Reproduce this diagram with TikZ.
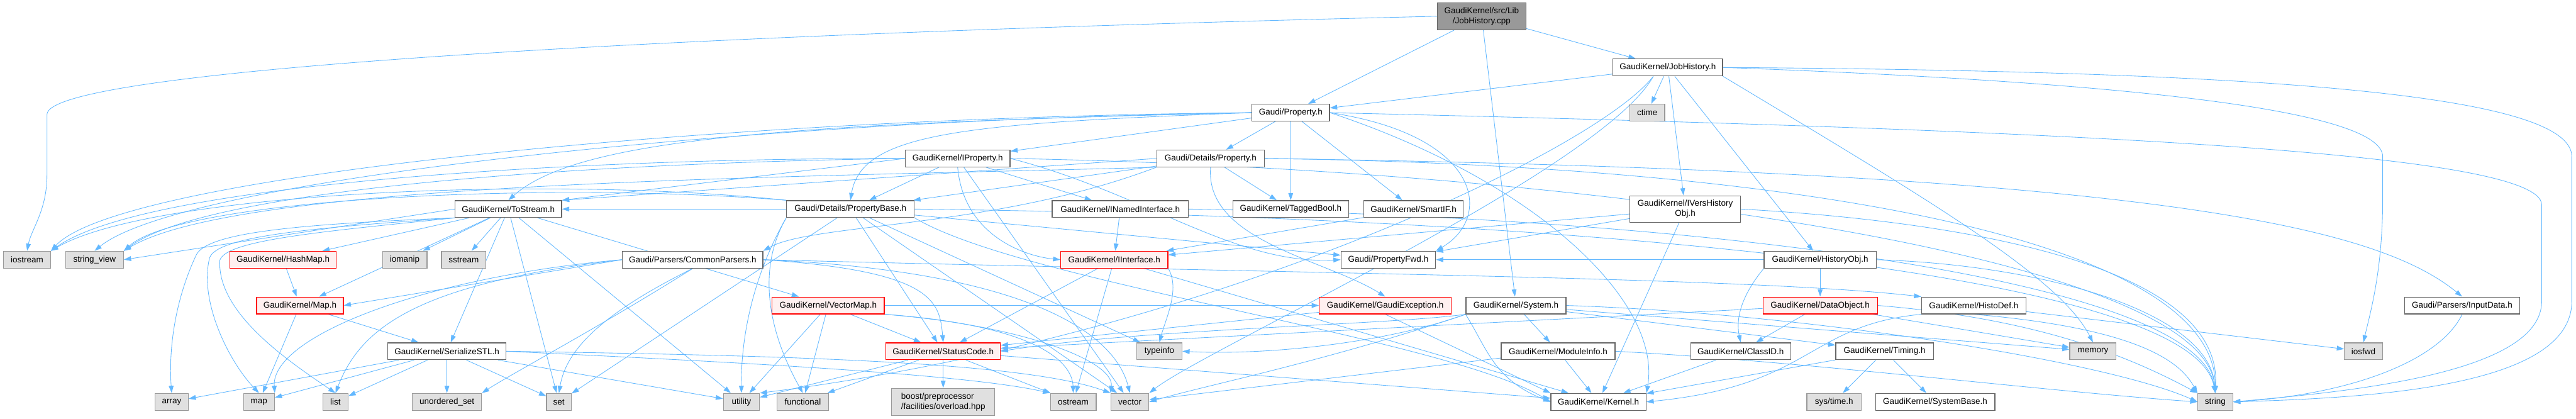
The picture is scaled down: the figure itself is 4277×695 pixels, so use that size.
\documentclass[tikz,border=0pt]{standalone}
\usepackage{fontspec}
\setmainfont{Liberation Sans}
\usetikzlibrary{arrows.meta}
\definecolor{edgec}{HTML}{63B8FF}
\definecolor{bordn}{HTML}{666666}
\definecolor{borde}{HTML}{999999}
\definecolor{fille}{HTML}{E0E0E0}
\definecolor{fillr}{HTML}{FFF0F0}
\definecolor{bordr}{HTML}{FF0000}
\definecolor{fillroot}{HTML}{999999}
\pgfdeclarelayer{bg}
\pgfsetlayers{bg,main}
\begin{document}
\begin{tikzpicture}[x=1pt,y=-1pt,
  every node/.style={font=\fontsize{14.1}{16.7}\selectfont, inner sep=0pt, minimum height=28pt, align=center, line width=1.3pt},
  nb/.style={draw=bordn, fill=white},
  xb/.style={draw=borde, fill=fille},
  rb/.style={draw=bordr, fill=fillr},
  rootb/.style={draw=bordn, fill=fillroot, minimum height=45pt},
  dep/.style={draw=edgec, line width=0.9pt, -{Triangle[length=12pt,width=8pt]}},
]
\useasboundingbox (0,0) rectangle (4277,695);
% ---- nodes
\node[rootb, minimum width=147pt] (cpp) at (2460,27) {GaudiKernel/src/Lib\\/JobHistory.cpp};
\node[nb, minimum width=129pt] (prop) at (2143,187) {Gaudi/Property.h};
\node[nb, minimum width=182pt] (jh) at (2769,112) {GaudiKernel/JobHistory.h};
\node[xb, minimum width=58pt] (ctime) at (2735,187) {ctime};
\node[nb, minimum width=174pt] (iprop) at (1590,263) {GaudiKernel/IProperty.h};
\node[nb, minimum width=179pt] (dprop) at (2010,263) {Gaudi/Details/Property.h};
\node[nb, minimum width=177pt] (tostr) at (844,347) {GaudiKernel/ToStream.h};
\node[nb, minimum width=212pt] (pbase) at (1412,347) {Gaudi/Details/PropertyBase.h};
\node[nb, minimum width=226pt] (inamed) at (1860,347) {GaudiKernel/INamedInterface.h};
\node[nb, minimum width=192pt] (tagged) at (2143,347) {GaudiKernel/TaggedBool.h};
\node[nb, minimum width=165pt] (smartif) at (2347,347) {GaudiKernel/SmartIF.h};
\node[nb, minimum width=184pt, minimum height=44pt] (ivers) at (2798,347) {GaudiKernel/IVersHistory\\Obj.h};
\node[xb, minimum width=78pt] (iostream) at (45,431) {iostream};
\node[xb, minimum width=96pt] (strview) at (157,431) {string\_view};
\node[rb, minimum width=177pt] (hashmap) at (470,431) {GaudiKernel/HashMap.h};
\node[xb, minimum width=74pt] (iomanip) at (672,431) {iomanip};
\node[xb, minimum width=74pt] (sstream) at (770,431) {sstream};
\node[nb, minimum width=233pt] (cpars) at (1150,431) {Gaudi/Parsers/CommonParsers.h};
\node[rb, minimum width=178pt] (iintf) at (1850,431) {GaudiKernel/IInterface.h};
\node[nb, minimum width=157pt] (pfwd) at (2305,431) {Gaudi/PropertyFwd.h};
\node[nb, minimum width=186pt] (histobj) at (3022,431) {GaudiKernel/HistoryObj.h};
\node[rb, minimum width=144pt] (maph) at (498,507) {GaudiKernel/Map.h};
\node[rb, minimum width=186pt] (vecmap) at (1375,507) {GaudiKernel/VectorMap.h};
\node[rb, minimum width=219pt] (gexc) at (2300,507) {GaudiKernel/GaudiException.h};
\node[nb, minimum width=166pt] (system) at (2517,507) {GaudiKernel/System.h};
\node[rb, minimum width=190pt] (dataobj) at (3022,507) {GaudiKernel/DataObject.h};
\node[nb, minimum width=173pt] (histodef) at (3277,507) {GaudiKernel/HistoDef.h};
\node[nb, minimum width=191pt] (inputdata) at (4088,507) {Gaudi/Parsers/InputData.h};
\node[nb, minimum width=196pt] (serial) at (742,583) {GaudiKernel/SerializeSTL.h};
\node[rb, minimum width=190pt] (scode) at (1566,583) {GaudiKernel/StatusCode.h};
\node[xb, minimum width=75pt] (typeinfo) at (1925,583) {typeinfo};
\node[nb, minimum width=189pt] (modinfo) at (2587,583) {GaudiKernel/ModuleInfo.h};
\node[nb, minimum width=166pt] (classid) at (2890,583) {GaudiKernel/ClassID.h};
\node[nb, minimum width=162pt] (timing) at (3129,583) {GaudiKernel/Timing.h};
\node[xb, minimum width=77pt] (memory) at (3475,583) {memory};
\node[xb, minimum width=63pt] (iosfwd) at (3924,583) {iosfwd};
\node[xb, minimum width=55pt] (array) at (285,667) {array};
\node[xb, minimum width=51pt] (stdmap) at (430,667) {map};
\node[xb, minimum width=42pt] (list) at (557,667) {list};
\node[xb, minimum width=115pt] (uset) at (742,667) {unordered\_set};
\node[xb, minimum width=41pt] (set) at (928,667) {set};
\node[xb, minimum width=60pt] (utility) at (1231,667) {utility};
\node[xb, minimum width=86pt] (functional) at (1333,667) {functional};
\node[xb, minimum width=171pt, minimum height=45pt, align=left] (boost) at (1566,667) {boost/preprocessor\\/facilities/overload.hpp};
\node[xb, minimum width=76pt] (ostream) at (1782,667) {ostream};
\node[xb, minimum width=63pt] (vector) at (1876,667) {vector};
\node[nb, minimum width=158pt] (kernel) at (2654,667) {GaudiKernel/Kernel.h};
\node[xb, minimum width=90pt] (systime) at (3045,667) {sys/time.h};
\node[nb, minimum width=198pt] (sysbase) at (3213,667) {GaudiKernel/SystemBase.h};
\node[xb, minimum width=58pt] (string) at (3678,667) {string};
\coordinate (jhsw) at ([xshift=-24pt]jh.south);
% ---- edges
\begin{pgfonlayer}{bg}
% root
\draw[dep] (cpp) -- (prop);
\draw[dep] (cpp) -- (jh);
\draw[dep] (cpp) -- (system);
\draw[dep] (cpp.west) .. controls (1000,60) and (78,120) .. (78,190) -- (78,290) .. controls (78,350) and (52,380) .. (iostream.north);
% JobHistory.h
\draw[dep] (jh) -- (prop);
\draw[dep] (jh) -- (ctime);
\draw[dep] (jh) -- (ivers);
\draw[dep] (jh) -- (histobj);
\draw[dep] (jh.south east) .. controls (3200,330) and (3420,460) .. (memory.north);
\draw[dep] (jhsw) .. controls (2650,250) and (2000,560) .. (utility.north east);
\draw[dep] (jhsw) .. controls (2660,280) and (2000,580) .. (vector.north east);
\draw[dep] (jh.east) .. controls (3800,118) and (4270,160) .. (4270,260) -- (4270,500) .. controls (4270,640) and (3950,660) .. (string.east);
\draw[dep] (jh.east) .. controls (3500,135) and (3956,180) .. (3956,260) -- (3956,330) .. controls (3956,450) and (3935,520) .. (iosfwd.north);
% Property.h
\draw[dep] (prop) -- (dprop);
\draw[dep] (prop) -- (iprop);
\draw[dep] (prop) -- (tagged);
\draw[dep] (prop) -- (smartif);
\draw[dep] (prop.west) .. controls (1600,205) and (1430,220) .. (pbase.north);
\draw[dep] (prop.west) .. controls (1300,205) and (960,230) .. (tostr.north);
\draw[dep] (prop.west) .. controls (1200,200) and (300,300) .. (strview.north);
\draw[dep] (prop.west) .. controls (1200,195) and (200,290) .. (iostream.north east);
\draw[dep] (prop.east) .. controls (2460,225) and (2480,360) .. (pfwd.north east);
\draw[dep] (prop.east) .. controls (2550,300) and (2760,500) .. (kernel.north east);
\draw[dep] (prop.east) .. controls (3400,215) and (4220,250) .. (4220,340) -- (4220,500) .. controls (4220,620) and (3900,650) .. (string.east);
% Details/Property.h
\draw[dep] (dprop) -- (pbase);
\draw[dep] (dprop) -- (tagged);
\draw[dep] (dprop.west) -- (tostr.north east);
\draw[dep] (dprop.south west) .. controls (1300,295) and (400,300) .. (strview.north east);
\draw[dep] (dprop.south west) .. controls (1650,380) and (1350,370) .. (cpars.north east);
\draw[dep] (dprop.south) .. controls (2000,400) and (2200,430) .. (gexc.north);
\draw[dep] (dprop.east) .. controls (3600,285) and (3950,380) .. (inputdata.north);
\draw[dep] (dprop.east) .. controls (3000,275) and (3680,400) .. (string.north);
% PropertyBase
\draw[dep] (pbase) -- (pfwd);
\draw[dep] (pbase) -- (scode);
\draw[dep] (pbase.west) -- (tostr.east);
\draw[dep] (pbase) -- (typeinfo);
\draw[dep] (pbase) -- (set);
\draw[dep] (pbase) -- (vector);
\draw[dep] (pbase.south west) .. controls (1260,440) and (1270,540) .. (functional.north);
\draw[dep] (pbase.south west) .. controls (1260,440) and (1230,540) .. (utility.north);
\draw[dep] (pbase.south east) .. controls (1700,470) and (2400,560) .. (kernel.west);
\draw[dep] (pbase.north west) .. controls (900,300) and (300,330) .. (strview.north east);
\draw[dep] (pbase.north west) .. controls (900,290) and (250,320) .. (iostream.north east);
\draw[dep] (pbase.east) .. controls (2600,360) and (3640,450) .. (string.north);
% IProperty
\draw[dep] (iprop) -- (pbase);
\draw[dep] (iprop) -- (inamed);
\draw[dep] (iprop.south) .. controls (1600,390) and (1700,425) .. (iintf.west);
\draw[dep] (iprop.west) -- (tostr.north east);
\draw[dep] (iprop.west) .. controls (1000,270) and (350,310) .. (strview.north east);
\draw[dep] (iprop.west) .. controls (1000,262) and (250,300) .. (iostream.north east);
\draw[dep] (iprop.east) .. controls (1900,320) and (2050,440) .. (pfwd.west);
\draw[dep] (iprop) -- (vector);
\draw[dep] (iprop.east) .. controls (2600,280) and (3660,420) .. (string.north);
% ToStream
\draw[dep] (tostr) -- (hashmap);
\draw[dep] (tostr) -- (maph);
\draw[dep] (tostr) -- (vecmap);
\draw[dep] (tostr) -- (serial);
\draw[dep] (tostr) -- (iomanip);
\draw[dep] (tostr) -- (sstream);
\draw[dep] (tostr.west) -- (strview.east);
\draw[dep] (tostr) -- (set);
\draw[dep] (tostr) -- (utility);
\draw[dep] (tostr.south west) .. controls (500,372) and (340,385) .. (325,425) .. controls (290,500) and (280,580) .. (array.north);
\draw[dep] (tostr.south west) .. controls (520,378) and (360,392) .. (348,428) .. controls (330,500) and (380,600) .. (stdmap.north);
\draw[dep] (tostr.south west) .. controls (540,384) and (375,398) .. (365,432) .. controls (360,520) and (480,600) .. (list.north);
% SerializeSTL
\draw[dep] (serial) -- (array);
\draw[dep] (serial) -- (stdmap);
\draw[dep] (serial) -- (list);
\draw[dep] (serial) -- (uset);
\draw[dep] (serial) -- (set);
\draw[dep] (serial) -- (utility);
\draw[dep] (serial.east) .. controls (1200,600) and (1600,620) .. (ostream.north west);
\draw[dep] (serial.east) .. controls (1300,590) and (1700,600) .. (vector.north west);
% Map / HashMap
\draw[dep] (hashmap) -- (maph);
\draw[dep] (maph) -- (stdmap);
\draw[dep] (maph) -- (serial);
% CommonParsers
\draw[dep] (cpars.west) -- (maph.east);
\draw[dep] (cpars.west) .. controls (700,470) and (600,540) .. (list.north);
\draw[dep] (cpars.west) .. controls (700,460) and (450,560) .. (stdmap.north east);
\draw[dep] (cpars.south) .. controls (1000,520) and (940,580) .. (set.north);
\draw[dep] (cpars.south) .. controls (1000,540) and (850,620) .. (uset.north east);
\draw[dep] (cpars.east) .. controls (1550,450) and (1560,500) .. (scode.north);
\draw[dep] (cpars.east) .. controls (1700,450) and (1850,550) .. (vector.north);
\draw[dep] (cpars.east) .. controls (2200,455) and (2900,460) .. (histodef.north west);
% VectorMap
\draw[dep] (vecmap) -- (scode);
\draw[dep] (vecmap) -- (functional);
\draw[dep] (vecmap) -- (utility);
\draw[dep] (vecmap.east) -- (gexc.west);
\draw[dep] (vecmap.south east) .. controls (1700,540) and (1850,600) .. (vector.north west);
\draw[dep] (vecmap.south east) .. controls (1720,540) and (1780,600) .. (ostream.north);
% IInterface / INamedInterface / SmartIF
\draw[dep] (iintf) -- (scode);
\draw[dep] (iintf) -- (ostream);
\draw[dep] (iintf.south east) .. controls (1960,480) and (1935,530) .. (typeinfo.north);
\draw[dep] (iintf) -- (kernel);
\draw[dep] (inamed) -- (iintf);
\draw[dep] (inamed.east) .. controls (2800,360) and (3650,460) .. (string.north);
\draw[dep] (smartif) -- (iintf);
% StatusCode
\draw[dep] (scode) -- (boost);
\draw[dep] (scode) -- (ostream);
\draw[dep] (scode) -- (functional);
\draw[dep] (scode) -- (utility);
\draw[dep] (scode) -- (kernel);
% GaudiException
\draw[dep] (gexc) -- (scode);
\draw[dep] (gexc.south) -- (kernel.north west);
% System
\draw[dep] (system) -- (modinfo);
\draw[dep] (system.south west) .. controls (2470,580) and (2480,630) .. (kernel.west);
\draw[dep] (system) -- (timing);
\draw[dep] (system.south west) .. controls (2300,540) and (1900,545) .. (scode.east);
\draw[dep] (system.south west) .. controls (2300,570) and (2100,590) .. (typeinfo.east);
\draw[dep] (system.south west) .. controls (2200,600) and (2000,640) .. (vector.east);
\draw[dep] (system) -- (memory);
\draw[dep] (system.east) .. controls (3000,520) and (3500,600) .. (string.west);
% ModuleInfo
\draw[dep] (modinfo) -- (kernel);
\draw[dep] (modinfo) -- (vector);
\draw[dep] (modinfo.east) .. controls (3000,600) and (3400,650) .. (string.west);
% IVersHistoryObj
\draw[dep] (ivers) -- (pfwd);
\draw[dep] (ivers) -- (iintf);
\draw[dep] (ivers) -- (kernel);
\draw[dep] (ivers.east) .. controls (3300,370) and (3690,450) .. (string.north);
% HistoryObj
\draw[dep] (histobj) -- (dataobj);
\draw[dep] (histobj.south west) .. controls (2900,480) and (2880,520) .. (classid.north);
\draw[dep] (histobj) -- (pfwd);
\draw[dep] (histobj.east) .. controls (3400,440) and (3670,520) .. (string.north);
% DataObject
\draw[dep] (dataobj) -- (classid);
\draw[dep] (dataobj) -- (scode);
\draw[dep] (dataobj) -- (memory);
\draw[dep] (dataobj.east) .. controls (3400,530) and (3550,600) .. (string.north west);
% HistoDef
\draw[dep] (histodef.south west) .. controls (3000,540) and (3010,640) .. (kernel.east);
\draw[dep] (histodef) -- (iosfwd);
\draw[dep] (histodef.south) .. controls (3550,545) and (3620,600) .. (string.north west);
% ClassID / Timing / InputData
\draw[dep] (classid) -- (kernel);
\draw[dep] (timing) -- (systime);
\draw[dep] (timing) -- (sysbase);
\draw[dep] (timing) -- (kernel);
\draw[dep] (inputdata.south) .. controls (4050,600) and (3900,655) .. (string.east);
\end{pgfonlayer}
\end{tikzpicture}
\end{document}
